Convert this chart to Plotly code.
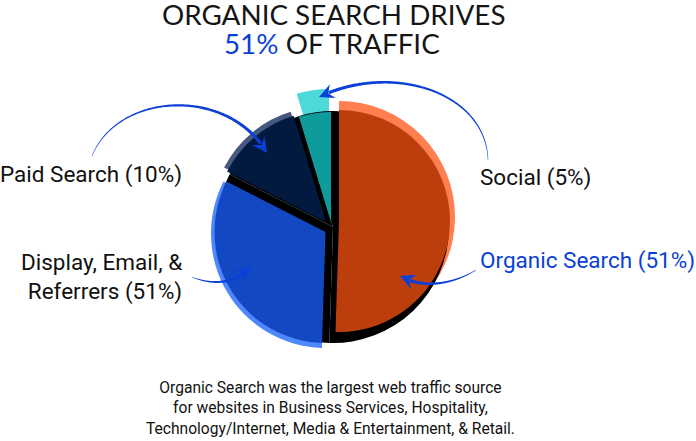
import numpy as np
import plotly.graph_objects as go

W, H = 696, 441

# ---- data (slice shares) ----
sources = ["Organic Search", "Display, Email, & Referrers", "Paid Search", "Social"]
shares = [50.5, 32.0, 12.8, 4.7]
label_texts = ["Organic Search (51%)", "Display, Email, &<br>Referrers (51%)",
               "Paid Search (10%)", "Social (5%)"]
title_line1 = "ORGANIC SEARCH DRIVES"
title_pct = "51%"
title_line2_rest = " OF TRAFFIC"
footnote_lines = [
    "Organic Search was the largest web traffic source",
    "for websites in Business Services, Hospitality,",
    "Technology/Internet, Media & Entertainment, & Retail.",
]

# ---- styles ----
dark_colors = ["#BC3E0C", "#1249C2", "#021A3F", "#0F9B9B"]
light_colors = ["#FF7F50", "#4F87FF", "#46587F", "#4DD9D9"]
BLUE = "#0A3FD8"
TRANSPARENT = "rgba(0,0,0,0)"

# pixel geometry of each layer: (cx, cy, r)
dark_geom = [(339, 221, 111), (325.5, 232, 111), (326, 222, 111), (331, 222, 110)]
light_geom = [(339, 217, 116), (325.5, 233.5, 114.5), (323, 218, 111), (329, 200, 111)]
black_geom = (333, 227, 116)


def domain(cx, cy, r):
    return dict(x=[(cx - r) / W, (cx + r) / W], y=[1 - (cy + r) / H, 1 - (cy - r) / H])


def pie(colors, geom, name):
    return go.Pie(values=shares, labels=sources, sort=False, direction="clockwise",
                  rotation=0, textinfo="none", hoverinfo="skip", showlegend=False,
                  marker=dict(colors=colors, line=dict(width=0)), domain=domain(*geom),
                  name=name)


fig = go.Figure()
for i in range(len(shares)):
    cols = [TRANSPARENT] * len(shares)
    cols[i] = light_colors[i]
    fig.add_trace(pie(cols, light_geom[i], "rim"))
fig.add_trace(pie(["#000000"] * len(shares), black_geom, "shadow"))
for i in range(len(shares)):
    cols = [TRANSPARENT] * len(shares)
    cols[i] = dark_colors[i]
    fig.add_trace(pie(cols, dark_geom[i], sources[i]))


# ---- curved tapered arrows (decoration) ----
def P(x, y):
    return f"{x / W:.5f},{1 - y / H:.5f}"


def arrow_paths(p0, p1, p2, p3, w0=0.4, w1=3.2, head_len=15, head_w=7.5):
    p0, p1, p2, p3 = map(np.array, (p0, p1, p2, p3))

    def bez(t):
        return ((1 - t) ** 3) * p0 + 3 * ((1 - t) ** 2) * t * p1 + 3 * (1 - t) * t * t * p2 + t ** 3 * p3

    ts = np.linspace(0, 1, 200)
    pts = np.array([bez(t) for t in ts])
    seg = np.linalg.norm(np.diff(pts, axis=0), axis=1)
    cum = np.concatenate([[0], np.cumsum(seg)])
    total = cum[-1]
    keep = cum <= total - head_len * 0.7
    body = pts[keep]
    n = len(body)
    left, right = [], []
    for k in range(n):
        a = body[max(k - 1, 0)]
        b = body[min(k + 1, n - 1)]
        d = (b - a) / (np.linalg.norm(b - a) + 1e-9)
        nrm = np.array([-d[1], d[0]])
        w = w0 + (w1 - w0) * (k / (n - 1)) ** 0.8
        left.append(body[k] + nrm * w / 2)
        right.append(body[k] - nrm * w / 2)
    poly = left + right[::-1]
    body_path = "M " + " L ".join(P(*q) for q in poly) + " Z"
    tip = pts[-1]
    base_idx = np.searchsorted(cum, total - head_len)
    d = tip - pts[base_idx]
    d = d / np.linalg.norm(d)
    nrm = np.array([-d[1], d[0]])
    base = tip - d * head_len
    b1 = base + nrm * head_w
    b2 = base - nrm * head_w
    notch = base + d * head_len * 0.35
    head_path = "M " + " L ".join(P(*q) for q in (tip, b1, notch, b2)) + " Z"
    return body_path, head_path


arrows = [
    ((92, 156), (118, 92), (228, 86), (267, 153)),    # Paid Search
    ((488, 160), (486, 92), (392, 62), (319, 97)),    # Social
    ((476, 270), (450, 286), (420, 288), (400, 276)),  # Organic Search
    ((192, 277), (214, 286), (236, 283), (251, 267)),  # Display
]
shapes = []
for a in arrows:
    for path in arrow_paths(*a):
        shapes.append(dict(type="path", path=path, xref="paper", yref="paper",
                           fillcolor=BLUE, line=dict(width=0), layer="above"))

LABEL_FONT = "Roboto, sans-serif"
TITLE_FONT = "Lato, Noto Sans, sans-serif"

annotations = [
    dict(text=title_line1, x=333 / W, y=1 - 14 / H, xanchor="center", yanchor="middle",
         font=dict(family=TITLE_FONT, size=27.8, color="#151515")),
    dict(text=f"<span style='color:{BLUE}'>{title_pct}</span>{title_line2_rest}",
         x=332 / W, y=1 - 44 / H, xanchor="center", yanchor="middle",
         font=dict(family=TITLE_FONT, size=27.8, color="#151515")),
    dict(text=label_texts[2], x=184 / W, y=1 - 174 / H, xanchor="right", yanchor="middle",
         font=dict(family=LABEL_FONT, size=22.5, color="#111111")),
    dict(text=label_texts[3], x=478 / W, y=1 - 178 / H, xanchor="left", yanchor="middle",
         font=dict(family=LABEL_FONT, size=22.5, color="#111111")),
    dict(text=label_texts[0], x=478 / W, y=1 - 260 / H, xanchor="left", yanchor="middle",
         font=dict(family=LABEL_FONT, size=22.5, color=BLUE)),
    dict(text=label_texts[1], x=184 / W, y=1 - 277 / H, xanchor="right", yanchor="middle",
         align="right", font=dict(family=LABEL_FONT, size=22.5, color="#111111")),
    dict(text="<br>".join(footnote_lines), x=330 / W, y=1 - 408 / H, xanchor="center",
         yanchor="middle", align="center",
         font=dict(family=LABEL_FONT, size=15.6, color="#111111")),
]
for a in annotations:
    a.update(xref="paper", yref="paper", showarrow=False)

fig.update_layout(width=W, height=H, margin=dict(l=0, r=0, t=0, b=0),
                  paper_bgcolor="white", plot_bgcolor="white",
                  showlegend=False, shapes=shapes, annotations=annotations)

fig.write_html("out.html", config={"displayModeBar": False, "staticPlot": True},
               post_script="document.body.style.margin='0';")
